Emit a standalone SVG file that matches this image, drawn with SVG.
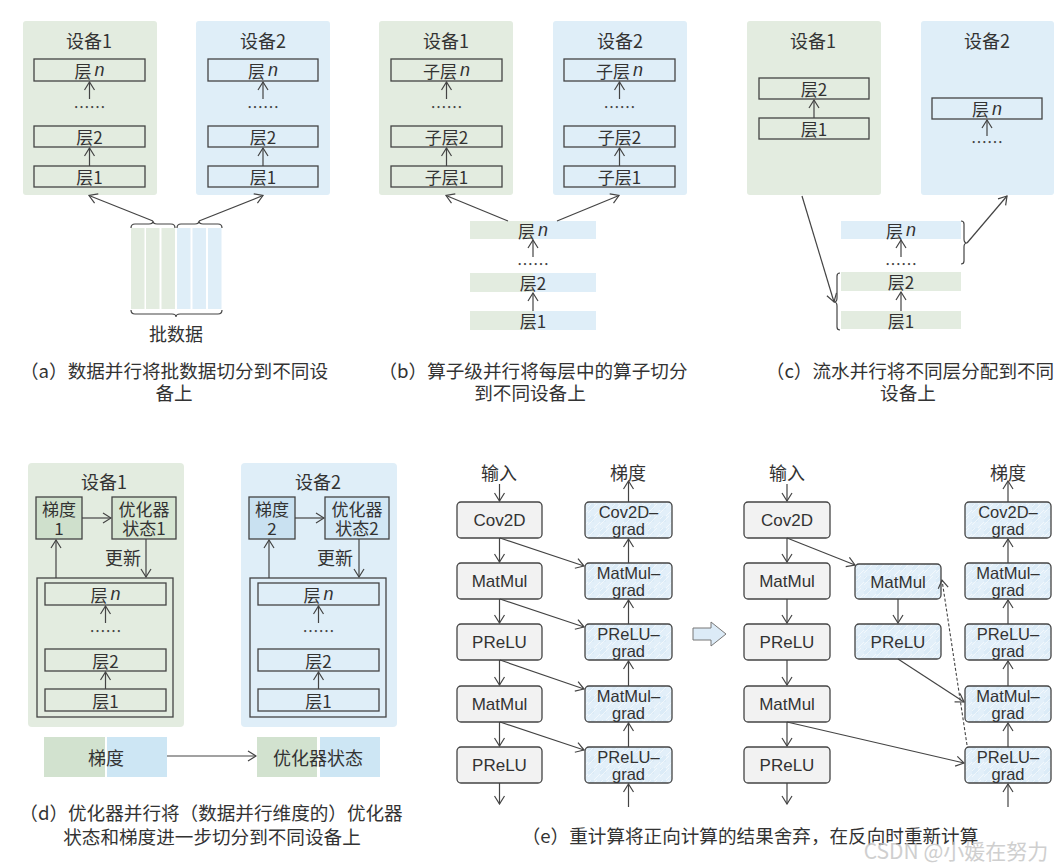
<svg xmlns="http://www.w3.org/2000/svg" width="1062" height="866" viewBox="0 0 1062 866">
<style>
text{font-family:"Noto Sans CJK SC","Noto Sans",sans-serif;fill:#333;text-anchor:middle;dominant-baseline:central}
.t18{font-size:18px}
.cap{font-size:18.6px}
.t17{font-size:17px}
.lat{font-family:"Liberation Sans","Noto Sans CJK SC",sans-serif;font-size:17px}
.lat2{font-family:"Liberation Sans","Noto Sans CJK SC",sans-serif;font-size:16.5px}
.it{font-family:"Liberation Sans",sans-serif;font-style:italic;font-size:18px}
.dev1{fill:#e3ece0}
.dev2{fill:#dfeef8}
.g{fill:#e3ece0}
.b{fill:#dfeef8}
.box{fill:none;stroke:#444;stroke-width:1.3}
.ln{fill:none;stroke:#444;stroke-width:1.2}
.arr{fill:none;stroke:#444;stroke-width:1.2;marker-end:url(#ah)}
.dash{fill:none;stroke:#444;stroke-width:1.1;stroke-dasharray:3 2;marker-end:url(#ah)}
.fw{fill:#f2f2f2;stroke:#444;stroke-width:1.3}
.bw{fill:url(#hatch);stroke:#444;stroke-width:1.3}
.dots{font-size:16px;fill:#444}
</style>
<defs>
<marker id="ah" markerWidth="10" markerHeight="12" refX="9" refY="6" orient="auto" markerUnits="userSpaceOnUse">
<path d="M1,1 L9,6 L1,11" fill="none" stroke="#444" stroke-width="1.2"/>
</marker>
<pattern id="hatch" width="12" height="12" patternUnits="userSpaceOnUse">
<rect width="12" height="12" fill="#e2eff9"/>
<rect width="6" height="6" fill="#dbebf7"/>
<path d="M-1,4 L4,-1 M-1,10 L10,-1 M5,13 L13,5" stroke="#ffffff" stroke-width="0.8" opacity="0.7"/>
</pattern>
</defs>

<!-- ===== Panel (a) ===== -->
<g id="a-dev1">
<rect class="dev1" x="23" y="21" width="134" height="174" rx="3"/>
<text class="t18" x="89" y="40">设备1</text>
<rect class="box" x="34" y="59" width="111" height="22"/><text class="t17" x="89.5" y="70">层<tspan class="it" dx="3">n</tspan></text>
<text class="dots" x="89.5" y="106">……</text>
<rect class="box" x="34" y="126" width="111" height="21"/><text class="t17" x="89.5" y="136.5">层2</text>
<rect class="box" x="34" y="166" width="111" height="21"/><text class="t17" x="89.5" y="176.5">层1</text>
</g>
<g id="a-dev2">
<rect class="dev2" x="196" y="21" width="134" height="174" rx="3"/>
<text class="t18" x="263" y="40">设备2</text>
<rect class="box" x="208" y="59" width="110" height="22"/><text class="t17" x="263" y="70">层<tspan class="it" dx="3">n</tspan></text>
<text class="dots" x="263" y="106">……</text>
<rect class="box" x="208" y="126" width="110" height="21"/><text class="t17" x="263" y="136.5">层2</text>
<rect class="box" x="208" y="166" width="110" height="21"/><text class="t17" x="263" y="176.5">层1</text>
</g>
<g id="a-batch">
<rect class="g" x="131" y="228" width="13.5" height="81"/>
<rect class="g" x="146" y="228" width="13.5" height="81"/>
<rect class="g" x="161.5" y="228" width="13.5" height="81"/>
<rect class="b" x="177" y="228" width="13.5" height="81"/>
<rect class="b" x="192.5" y="228" width="13.5" height="81"/>
<rect class="b" x="208" y="228" width="13.5" height="81"/>
<path class="ln" d="M131,228 Q131,224 135,224 L149,224 Q153,224 153,221 Q153,224 157,224 L171,224 Q175,224 175,228"/>
<path class="ln" d="M177,228 Q177,224 181,224 L195,224 Q199,224 199,221 Q199,224 203,224 L218,224 Q222,224 222,228"/>
<path class="ln" d="M131,310 Q131,314 135,314 L172,314 Q176,314 176,317 Q176,314 180,314 L218,314 Q222,314 222,310"/>
<text class="t18" x="176" y="333">批数据</text>
</g>
<g id="a-connectors">
<path class="arr" d="M89.5,166 L89.5,148"/>
<path class="arr" d="M89.5,99 L89.5,82"/>
<path class="arr" d="M263,166 L263,148"/>
<path class="arr" d="M263,99 L263,82"/>
<path class="arr" d="M153,221 L89,195.5"/>
<path class="arr" d="M199,221 L263,195.5"/>
</g>
<g id="a-caption">
<text class="cap" x="174" y="369">（a）数据并行将批数据切分到不同设</text>
<text class="cap" x="174" y="391">备上</text>
</g>

<!-- ===== Panel (b) ===== -->
<g id="b-dev1">
<rect class="dev1" x="379" y="21" width="134" height="174" rx="3"/>
<text class="t18" x="446" y="40">设备1</text>
<rect class="box" x="391" y="59" width="111" height="22"/><text class="t17" x="446.5" y="70">子层<tspan class="it" dx="3">n</tspan></text>
<text class="dots" x="446.5" y="106">……</text>
<rect class="box" x="391" y="126" width="111" height="21"/><text class="t17" x="446.5" y="136.5">子层2</text>
<rect class="box" x="391" y="166" width="111" height="21"/><text class="t17" x="446.5" y="176.5">子层1</text>
</g>
<g id="b-dev2">
<rect class="dev2" x="553" y="21" width="134" height="174" rx="3"/>
<text class="t18" x="620" y="40">设备2</text>
<rect class="box" x="564" y="59" width="111" height="22"/><text class="t17" x="619.5" y="70">子层<tspan class="it" dx="3">n</tspan></text>
<text class="dots" x="619.5" y="106">……</text>
<rect class="box" x="564" y="126" width="111" height="21"/><text class="t17" x="619.5" y="136.5">子层2</text>
<rect class="box" x="564" y="166" width="111" height="21"/><text class="t17" x="619.5" y="176.5">子层1</text>
</g>
<g id="b-layers">
<rect class="g" x="470" y="221" width="63" height="18"/><rect class="b" x="533" y="221" width="63" height="18"/>
<text class="t17" x="533" y="230">层<tspan class="it" dx="3">n</tspan></text>
<text class="dots" x="533" y="263">……</text>
<rect class="g" x="470" y="273" width="63" height="19"/><rect class="b" x="533" y="273" width="63" height="19"/>
<text class="t17" x="533" y="282.5">层2</text>
<rect class="g" x="470" y="311" width="63" height="19"/><rect class="b" x="533" y="311" width="63" height="19"/>
<text class="t17" x="533" y="320.5">层1</text>
</g>
<g id="b-connectors">
<path class="arr" d="M446.5,166 L446.5,148"/>
<path class="arr" d="M446.5,99 L446.5,82"/>
<path class="arr" d="M619.5,166 L619.5,148"/>
<path class="arr" d="M619.5,99 L619.5,82"/>
<path class="arr" d="M533,311 L533,293"/>
<path class="arr" d="M533,257 L533,240"/>
<path class="arr" d="M508,221 L446,195.5"/>
<path class="arr" d="M557,221 L619,195.5"/>
</g>
<g id="b-caption">
<text class="cap" x="533" y="369">（b）算子级并行将每层中的算子切分</text>
<text class="cap" x="530" y="391">到不同设备上</text>
</g>

<!-- ===== Panel (c) ===== -->
<g id="c-dev1">
<rect class="dev1" x="747" y="21" width="134" height="174" rx="3"/>
<text class="t18" x="813" y="40">设备1</text>
<rect class="box" x="759" y="78" width="110" height="21"/><text class="t17" x="814" y="88.5">层2</text>
<rect class="box" x="759" y="118" width="110" height="21"/><text class="t17" x="814" y="128.5">层1</text>
</g>
<g id="c-dev2">
<rect class="dev2" x="921" y="21" width="133" height="174" rx="3"/>
<text class="t18" x="987" y="40">设备2</text>
<rect class="box" x="932" y="98" width="110" height="21"/><text class="t17" x="987" y="108.5">层<tspan class="it" dx="3">n</tspan></text>
<text class="dots" x="987" y="141">……</text>
</g>
<g id="c-layers">
<rect class="b" x="841" y="221" width="120" height="18"/>
<text class="t17" x="901" y="230">层<tspan class="it" dx="3">n</tspan></text>
<text class="dots" x="901" y="263">……</text>
<rect class="g" x="841" y="272" width="120" height="19"/>
<text class="t17" x="901" y="281.5">层2</text>
<rect class="g" x="841" y="311" width="120" height="18"/>
<text class="t17" x="901" y="320">层1</text>
<path class="ln" d="M961,221 Q964,221 964,224 L964,239 Q964,243 967,243 Q964,243 964,247 L964,261 Q964,264 961,264"/>
<path class="ln" d="M840,273 Q837,273 837,276 L837,298 Q837,302 834,302 Q837,302 837,306 L837,327 Q837,330 840,330"/>
</g>
<g id="c-connectors">
<path class="arr" d="M814,118 L814,100"/>
<path class="arr" d="M987,136 L987,120"/>
<path class="arr" d="M901,311 L901,292"/>
<path class="arr" d="M901,257 L901,240"/>
<path class="arr" d="M967,243 L1007,196"/>
<path class="arr" d="M802,196 L834,302"/>
</g>
<g id="c-caption">
<text class="cap" x="910" y="369">（c）流水并行将不同层分配到不同</text>
<text class="cap" x="908" y="391">设备上</text>
</g>

<!-- ===== Panel (d) ===== -->
<g id="d-dev1">
<rect class="dev1" x="28" y="463" width="156" height="264" rx="4"/>
<text class="t18" x="104" y="481">设备1</text>
<rect x="36" y="497" width="46" height="42" fill="#cfe0cc" stroke="#444" stroke-width="1.3"/>
<text class="t17" x="59" y="508.5">梯度</text><text class="t17" x="59" y="527.5">1</text>
<rect x="112" y="497" width="64" height="42" fill="#d6e5d2" stroke="#444" stroke-width="1.3"/>
<text class="t17" x="144" y="508.5">优化器</text><text class="t17" x="144" y="527.5">状态1</text>
<text class="t18" x="123" y="557">更新</text>
<rect class="box" x="37" y="578" width="136" height="139"/>
<rect class="box" x="45" y="583" width="121" height="22"/><text class="t17" x="105.5" y="594">层<tspan class="it" dx="3">n</tspan></text>
<text class="dots" x="105.5" y="630">……</text>
<rect class="box" x="45" y="649" width="121" height="22"/><text class="t17" x="105.5" y="660">层2</text>
<rect class="box" x="45" y="689" width="121" height="22"/><text class="t17" x="105.5" y="700">层1</text>
</g>
<g id="d-dev2">
<rect class="dev2" x="241" y="463" width="156" height="264" rx="4"/>
<text class="t18" x="318" y="481">设备2</text>
<rect x="249" y="497" width="46" height="42" fill="#c9e1f1" stroke="#444" stroke-width="1.3"/>
<text class="t17" x="272" y="508.5">梯度</text><text class="t17" x="272" y="527.5">2</text>
<rect x="325" y="497" width="64" height="42" fill="#d2e7f5" stroke="#444" stroke-width="1.3"/>
<text class="t17" x="357" y="508.5">优化器</text><text class="t17" x="357" y="527.5">状态2</text>
<text class="t18" x="335" y="557">更新</text>
<rect class="box" x="250" y="578" width="136" height="139"/>
<rect class="box" x="258" y="583" width="121" height="22"/><text class="t17" x="318.5" y="594">层<tspan class="it" dx="3">n</tspan></text>
<text class="dots" x="318.5" y="630">……</text>
<rect class="box" x="258" y="649" width="121" height="22"/><text class="t17" x="318.5" y="660">层2</text>
<rect class="box" x="258" y="689" width="121" height="22"/><text class="t17" x="318.5" y="700">层1</text>
</g>
<g id="d-bars">
<rect x="44" y="737" width="61" height="40" fill="#d2e2cf"/><rect x="107" y="737" width="60" height="40" fill="#cde6f4"/>
<text class="t18" x="106" y="757">梯度</text>
<rect x="257" y="737" width="60" height="40" fill="#d2e2cf"/><rect x="320" y="737" width="60" height="40" fill="#cde6f4"/>
<text class="t18" x="318" y="757">优化器状态</text>
</g>
<g id="d-connectors">
<path class="arr" d="M82,518 L111,518"/>
<path class="arr" d="M146,539 L146,577"/>
<path class="arr" d="M56,578 L56,540"/>
<path class="arr" d="M105.5,689 L105.5,672"/>
<path class="arr" d="M105.5,623 L105.5,606"/>
<path class="arr" d="M295,518 L324,518"/>
<path class="arr" d="M359,539 L359,577"/>
<path class="arr" d="M269,578 L269,540"/>
<path class="arr" d="M318.5,689 L318.5,672"/>
<path class="arr" d="M318.5,623 L318.5,606"/>
<path class="arr" d="M167,756 L256,756"/>
</g>
<g id="d-caption">
<text class="cap" x="211" y="811">（d）优化器并行将（数据并行维度的）优化器</text>
<text class="cap" x="212" y="835">状态和梯度进一步切分到不同设备上</text>
</g>

<!-- ===== Panel (e) left ===== -->
<g id="e1-forward">
<text class="t18" x="499" y="472">输入</text>
<rect class="fw" x="457" y="502" width="85" height="36" rx="4"/><text class="lat" x="499.5" y="520">Cov2D</text>
<rect class="fw" x="457" y="563" width="85" height="36" rx="4"/><text class="lat" x="499.5" y="581">MatMul</text>
<rect class="fw" x="457" y="624" width="85" height="36" rx="4"/><text class="lat" x="499.5" y="642">PReLU</text>
<rect class="fw" x="457" y="686" width="85" height="36" rx="4"/><text class="lat" x="499.5" y="704">MatMul</text>
<rect class="fw" x="457" y="747" width="85" height="36" rx="4"/><text class="lat" x="499.5" y="765">PReLU</text>
</g>
<g id="e1-backward">
<text class="t18" x="628" y="472">梯度</text>
<rect class="bw" x="585" y="502" width="87" height="36" rx="4"/><text class="lat2" x="628.5" y="511.5">Cov2D–</text><text class="lat2" x="628.5" y="528.5">grad</text>
<rect class="bw" x="585" y="563" width="87" height="36" rx="4"/><text class="lat2" x="628.5" y="572.5">MatMul–</text><text class="lat2" x="628.5" y="589.5">grad</text>
<rect class="bw" x="585" y="624" width="87" height="36" rx="4"/><text class="lat2" x="628.5" y="633.5">PReLU–</text><text class="lat2" x="628.5" y="650.5">grad</text>
<rect class="bw" x="585" y="686" width="87" height="36" rx="4"/><text class="lat2" x="628.5" y="695.5">MatMul–</text><text class="lat2" x="628.5" y="712.5">grad</text>
<rect class="bw" x="585" y="747" width="87" height="36" rx="4"/><text class="lat2" x="628.5" y="756.5">PReLU–</text><text class="lat2" x="628.5" y="773.5">grad</text>
</g>
<g id="e-bigarrow">
<polygon points="693,628 711,628 711,622 726,634 711,646 711,640 693,640" fill="#dcebf7" stroke="#777" stroke-width="1"/>
</g>
<!-- ===== Panel (e) right ===== -->
<g id="e2-forward">
<text class="t18" x="787" y="472">输入</text>
<rect class="fw" x="744" y="502" width="86" height="36" rx="4"/><text class="lat" x="787" y="520">Cov2D</text>
<rect class="fw" x="744" y="563" width="86" height="36" rx="4"/><text class="lat" x="787" y="581">MatMul</text>
<rect class="fw" x="744" y="624" width="86" height="36" rx="4"/><text class="lat" x="787" y="642">PReLU</text>
<rect class="fw" x="744" y="686" width="86" height="36" rx="4"/><text class="lat" x="787" y="704">MatMul</text>
<rect class="fw" x="744" y="747" width="86" height="36" rx="4"/><text class="lat" x="787" y="765">PReLU</text>
</g>
<g id="e2-recompute">
<rect class="bw" x="855" y="564" width="86" height="35" rx="4"/><text class="lat" x="898" y="582">MatMul</text>
<rect class="bw" x="855" y="624" width="86" height="35" rx="4"/><text class="lat" x="898" y="642">PReLU</text>
</g>
<g id="e2-backward">
<text class="t18" x="1008" y="472">梯度</text>
<rect class="bw" x="965" y="502" width="86" height="36" rx="4"/><text class="lat2" x="1008" y="511.5">Cov2D–</text><text class="lat2" x="1008" y="528.5">grad</text>
<rect class="bw" x="965" y="563" width="86" height="36" rx="4"/><text class="lat2" x="1008" y="572.5">MatMul–</text><text class="lat2" x="1008" y="589.5">grad</text>
<rect class="bw" x="965" y="624" width="86" height="36" rx="4"/><text class="lat2" x="1008" y="633.5">PReLU–</text><text class="lat2" x="1008" y="650.5">grad</text>
<rect class="bw" x="965" y="686" width="86" height="36" rx="4"/><text class="lat2" x="1008" y="695.5">MatMul–</text><text class="lat2" x="1008" y="712.5">grad</text>
<rect class="bw" x="965" y="747" width="86" height="36" rx="4"/><text class="lat2" x="1008" y="756.5">PReLU–</text><text class="lat2" x="1008" y="773.5">grad</text>
</g>
<g id="e-connectors">
<path class="arr" d="M499.5,484 L499.5,501"/>
<path class="arr" d="M499.5,538 L499.5,562"/>
<path class="arr" d="M499.5,599 L499.5,623"/>
<path class="arr" d="M499.5,660 L499.5,685"/>
<path class="arr" d="M499.5,722 L499.5,746"/>
<path class="arr" d="M499.5,783 L499.5,804"/>
<path class="arr" d="M628.5,502 L628.5,481"/>
<path class="arr" d="M628.5,563 L628.5,539"/>
<path class="arr" d="M628.5,624 L628.5,600"/>
<path class="arr" d="M628.5,686 L628.5,661"/>
<path class="arr" d="M628.5,747 L628.5,723"/>
<path class="arr" d="M628.5,807 L628.5,784"/>
<path class="arr" d="M500,538 L584,566"/>
<path class="arr" d="M500,599 L584,627"/>
<path class="arr" d="M500,660 L584,689"/>
<path class="arr" d="M500,722 L584,750"/>
<path class="arr" d="M787,484 L787,501"/>
<path class="arr" d="M787,538 L787,562"/>
<path class="arr" d="M787,599 L787,623"/>
<path class="arr" d="M787,660 L787,685"/>
<path class="arr" d="M787,722 L787,746"/>
<path class="arr" d="M787,783 L787,804"/>
<path class="arr" d="M898,599 L898,623"/>
<path class="arr" d="M787,538 L855,565"/>
<path class="arr" d="M898,659 L964,702"/>
<path class="arr" d="M787,722 L964,763"/>
<path class="dash" d="M967,745 L942,580"/>
<path class="arr" d="M1008,502 L1008,481"/>
<path class="arr" d="M1008,563 L1008,539"/>
<path class="arr" d="M1008,624 L1008,600"/>
<path class="arr" d="M1008,686 L1008,661"/>
<path class="arr" d="M1008,747 L1008,723"/>
<path class="arr" d="M1008,807 L1008,784"/>
</g>
<g id="e-caption">
<text class="cap" x="750" y="834">（e）重计算将正向计算的结果舍弃，在反向时重新计算</text>
</g>
<text x="956" y="850" style="font-size:21px;fill:#c4c4c4;opacity:0.8">CSDN @小媛在努力</text>
</svg>
